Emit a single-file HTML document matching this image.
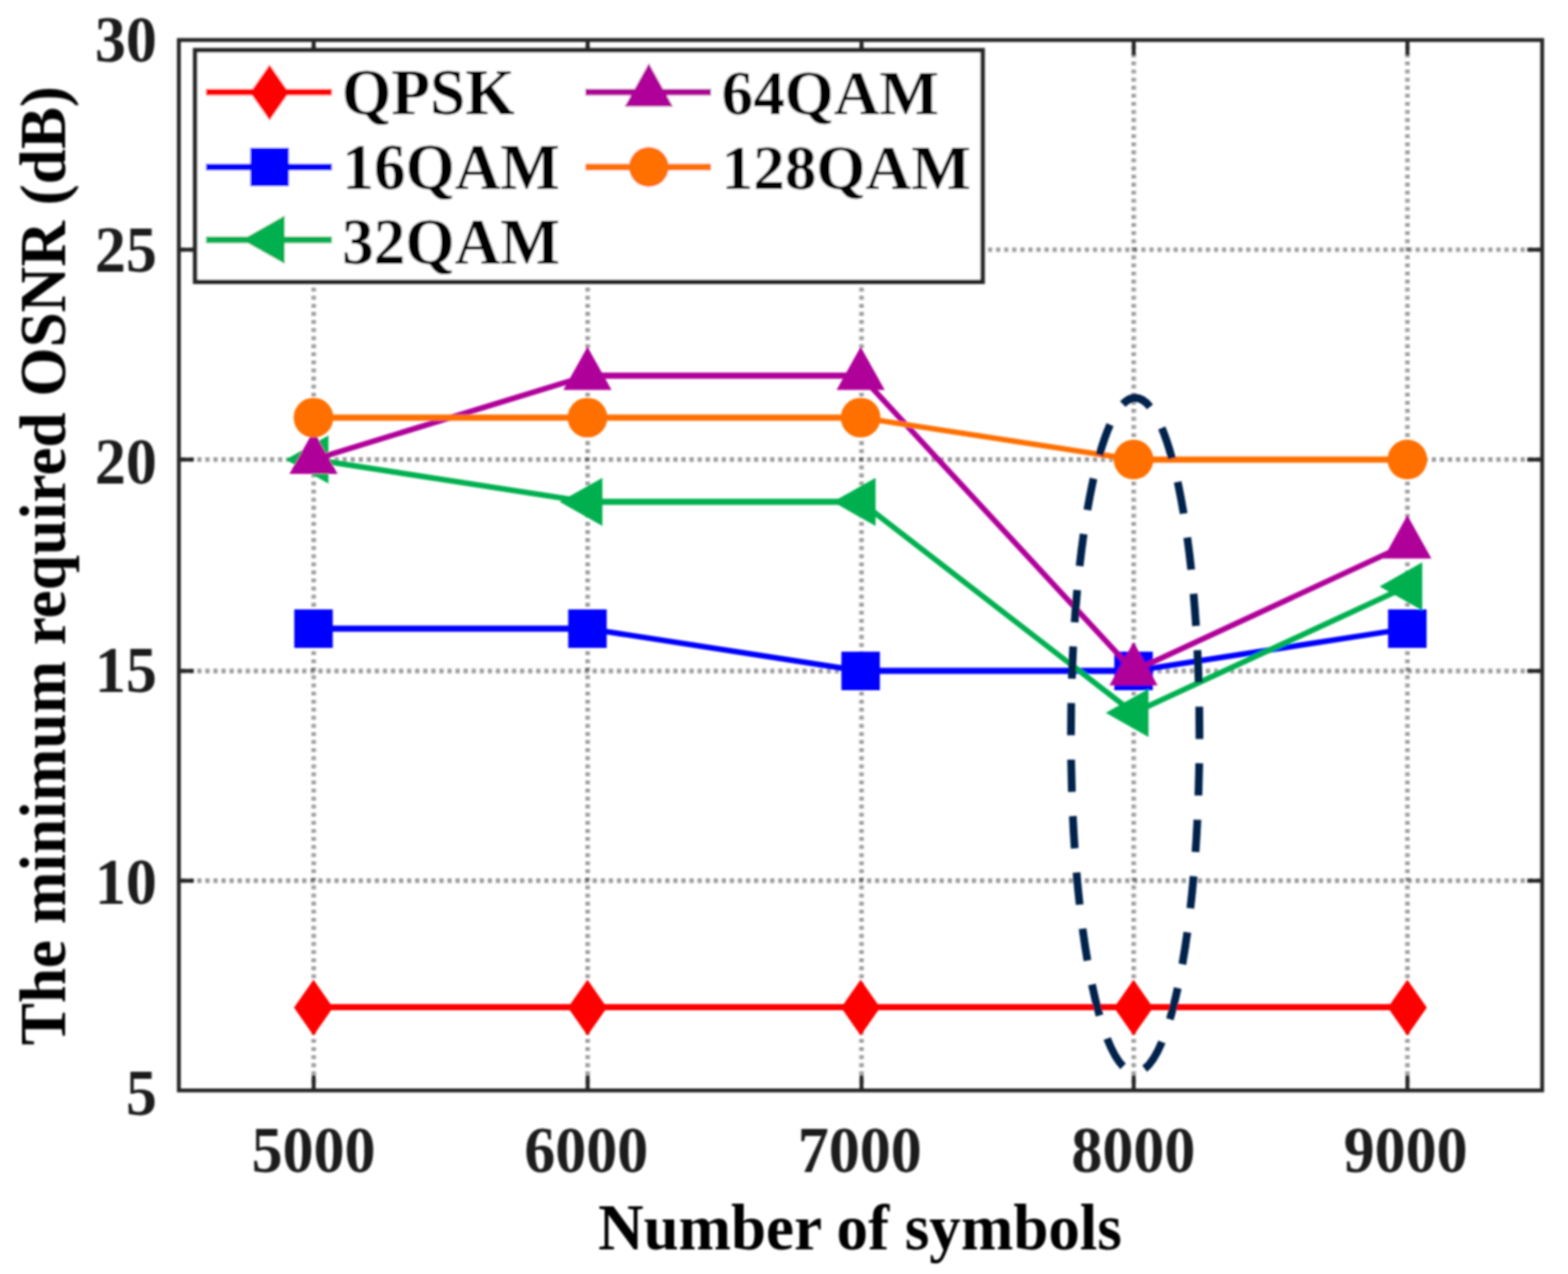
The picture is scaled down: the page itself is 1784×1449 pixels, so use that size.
<!DOCTYPE html>
<html lang="en"><head><meta charset="utf-8"><title>The minimum required OSNR versus number of symbols</title>
<style>
html,body{margin:0;padding:0;background:#fff;}
body{width:1784px;height:1449px;overflow:hidden;}
svg{display:block;}
text{font-family:"Liberation Serif","DejaVu Serif",serif;font-weight:bold;}
.tick{fill:#1c1c1c;}
.lab{fill:#000;}
.leg{fill:#000;}
</style></head><body>
<svg width="1784" height="1449" viewBox="0 0 1784 1449">
<defs><filter id="soft" x="0" y="0" width="1784" height="1449" filterUnits="userSpaceOnUse"><feGaussianBlur stdDeviation="0.95"/></filter></defs>
<rect x="0" y="0" width="1784" height="1449" fill="#ffffff"/>
<g filter="url(#soft)">
<g stroke="#262626" stroke-opacity="0.45" stroke-width="5.2" fill="none">
<line x1="356.9" y1="1240.2" x2="356.9" y2="45.5" stroke-dasharray="4.3 4.888" stroke-dashoffset="1.0"/>
<line x1="668.6" y1="1240.2" x2="668.6" y2="45.5" stroke-dasharray="4.3 4.888" stroke-dashoffset="1.0"/>
<line x1="980.2" y1="1240.2" x2="980.2" y2="45.5" stroke-dasharray="4.3 4.888" stroke-dashoffset="1.0"/>
<line x1="1289.9" y1="1240.2" x2="1289.9" y2="45.5" stroke-dasharray="4.3 4.888" stroke-dashoffset="1.0"/>
<line x1="1601.3" y1="1240.2" x2="1601.3" y2="45.5" stroke-dasharray="4.3 4.888" stroke-dashoffset="1.0"/>
<line x1="203.5" y1="1001.7" x2="1754.6" y2="1001.7" stroke-dasharray="4.7 4.48" stroke-dashoffset="6.5"/>
<line x1="203.5" y1="763.1" x2="1754.6" y2="763.1" stroke-dasharray="4.7 4.48" stroke-dashoffset="6.5"/>
<line x1="203.5" y1="522.7" x2="1754.6" y2="522.7" stroke-dasharray="4.7 4.48" stroke-dashoffset="6.5"/>
<line x1="203.5" y1="284.0" x2="1754.6" y2="284.0" stroke-dasharray="4.7 4.48" stroke-dashoffset="6.5"/>
</g>
<rect x="203.5" y="45.5" width="1551.1" height="1194.7" stroke="#262626" stroke-width="4.4" fill="none"/>
<g stroke="#262626" stroke-width="4.5" fill="none">
<line x1="356.9" y1="1240.2" x2="356.9" y2="1223.2"/>
<line x1="356.9" y1="45.5" x2="356.9" y2="62.5"/>
<line x1="668.6" y1="1240.2" x2="668.6" y2="1223.2"/>
<line x1="668.6" y1="45.5" x2="668.6" y2="62.5"/>
<line x1="980.2" y1="1240.2" x2="980.2" y2="1223.2"/>
<line x1="980.2" y1="45.5" x2="980.2" y2="62.5"/>
<line x1="1289.9" y1="1240.2" x2="1289.9" y2="1223.2"/>
<line x1="1289.9" y1="45.5" x2="1289.9" y2="62.5"/>
<line x1="1601.3" y1="1240.2" x2="1601.3" y2="1223.2"/>
<line x1="1601.3" y1="45.5" x2="1601.3" y2="62.5"/>
<line x1="203.5" y1="1001.7" x2="220.5" y2="1001.7"/>
<line x1="1754.6" y1="1001.7" x2="1737.6" y2="1001.7"/>
<line x1="203.5" y1="763.1" x2="220.5" y2="763.1"/>
<line x1="1754.6" y1="763.1" x2="1737.6" y2="763.1"/>
<line x1="203.5" y1="522.7" x2="220.5" y2="522.7"/>
<line x1="1754.6" y1="522.7" x2="1737.6" y2="522.7"/>
<line x1="203.5" y1="284.0" x2="220.5" y2="284.0"/>
<line x1="1754.6" y1="284.0" x2="1737.6" y2="284.0"/>
</g>
<text class="tick" transform="translate(356.70,1332.60) scale(1.0,1.06)" text-anchor="middle" font-size="70.5">5000</text>
<text class="tick" transform="translate(666.90,1332.60) scale(1.0,1.06)" text-anchor="middle" font-size="70.5">6000</text>
<text class="tick" transform="translate(978.30,1332.60) scale(1.0,1.06)" text-anchor="middle" font-size="70.5">7000</text>
<text class="tick" transform="translate(1289.40,1332.60) scale(1.0,1.06)" text-anchor="middle" font-size="70.5">8000</text>
<text class="tick" transform="translate(1599.30,1332.60) scale(1.0,1.06)" text-anchor="middle" font-size="70.5">9000</text>
<text class="tick" transform="translate(178.50,1267.70) scale(1.0,1.045)" text-anchor="end" font-size="70.5">5</text>
<text class="tick" transform="translate(178.50,1028.20) scale(1.0,1.045)" text-anchor="end" font-size="70.5">10</text>
<text class="tick" transform="translate(178.50,787.30) scale(1.0,1.045)" text-anchor="end" font-size="70.5">15</text>
<text class="tick" transform="translate(178.50,549.60) scale(1.0,1.045)" text-anchor="end" font-size="70.5">20</text>
<text class="tick" transform="translate(178.50,309.20) scale(1.0,1.045)" text-anchor="end" font-size="70.5">25</text>
<text class="tick" transform="translate(178.50,70.40) scale(1.0,1.045)" text-anchor="end" font-size="70.5">30</text>
<text class="lab" transform="translate(978.40,1421.20) scale(1.0,1.04)" text-anchor="middle" font-size="71.7">Number of symbols</text>
<text class="lab" transform="translate(74.30,643.35) rotate(-90) scale(1.0,1.02)" text-anchor="middle" font-size="71.85">The minimum required OSNR (dB)</text>
<line x1="356.7" y1="1145.6" x2="668.4" y2="1145.6" stroke="#ff0000" stroke-width="7.00"/>
<line x1="668.4" y1="1145.6" x2="979.2" y2="1145.6" stroke="#ff0000" stroke-width="7.00"/>
<line x1="979.2" y1="1145.6" x2="1289.7" y2="1145.6" stroke="#ff0000" stroke-width="7.00"/>
<line x1="1289.7" y1="1145.6" x2="1601.2" y2="1145.6" stroke="#ff0000" stroke-width="7.00"/>
<polygon points="356.7,1114.3 378.9,1146.0 356.7,1177.7 334.5,1146.0" fill="#ff0000"/>
<polygon points="668.4,1114.3 690.6,1146.0 668.4,1177.7 646.2,1146.0" fill="#ff0000"/>
<polygon points="979.2,1114.3 1001.4,1146.0 979.2,1177.7 957.0,1146.0" fill="#ff0000"/>
<polygon points="1289.7,1114.3 1311.9,1146.0 1289.7,1177.7 1267.5,1146.0" fill="#ff0000"/>
<polygon points="1601.2,1114.3 1623.4,1146.0 1601.2,1177.7 1579.0,1146.0" fill="#ff0000"/>
<line x1="356.7" y1="715.0" x2="668.4" y2="715.0" stroke="#0000ff" stroke-width="7.00"/>
<line x1="668.4" y1="715.0" x2="979.2" y2="763.1" stroke="#0000ff" stroke-width="6.30"/>
<line x1="979.2" y1="763.1" x2="1289.7" y2="763.1" stroke="#0000ff" stroke-width="7.00"/>
<line x1="1289.7" y1="763.1" x2="1601.2" y2="715.0" stroke="#0000ff" stroke-width="6.30"/>
<rect x="334.8" y="693.1" width="43.8" height="43.8" fill="#0000ff"/>
<rect x="646.5" y="693.1" width="43.8" height="43.8" fill="#0000ff"/>
<rect x="957.3" y="741.2" width="43.8" height="43.8" fill="#0000ff"/>
<rect x="1267.8" y="741.2" width="43.8" height="43.8" fill="#0000ff"/>
<rect x="1579.3" y="693.1" width="43.8" height="43.8" fill="#0000ff"/>
<line x1="356.7" y1="522.7" x2="668.4" y2="570.8" stroke="#00b050" stroke-width="6.30"/>
<line x1="668.4" y1="570.8" x2="979.2" y2="570.8" stroke="#00b050" stroke-width="7.00"/>
<line x1="979.2" y1="570.8" x2="1289.7" y2="810.8" stroke="#00b050" stroke-width="6.30"/>
<line x1="1289.7" y1="810.8" x2="1601.2" y2="666.9" stroke="#00b050" stroke-width="6.30"/>
<polygon points="325.1,522.7 373.7,495.3 373.7,550.1" fill="#00b050"/>
<polygon points="636.8,570.8 685.4,543.4 685.4,598.2" fill="#00b050"/>
<polygon points="947.6,570.8 996.2,543.4 996.2,598.2" fill="#00b050"/>
<polygon points="1258.1,810.8 1306.7,783.4 1306.7,838.2" fill="#00b050"/>
<polygon points="1569.6,666.9 1618.2,639.5 1618.2,694.3" fill="#00b050"/>
<line x1="356.7" y1="522.7" x2="668.4" y2="427.2" stroke="#b0069a" stroke-width="6.30"/>
<line x1="668.4" y1="427.2" x2="979.2" y2="427.2" stroke="#b0069a" stroke-width="7.00"/>
<line x1="979.2" y1="427.2" x2="1289.7" y2="763.1" stroke="#b0069a" stroke-width="6.30"/>
<line x1="1289.7" y1="763.1" x2="1601.2" y2="618.9" stroke="#b0069a" stroke-width="6.30"/>
<polygon points="356.7,489.9 384.1,539.1 329.3,539.1" fill="#b0069a"/>
<polygon points="668.4,394.4 695.8,443.6 641.0,443.6" fill="#b0069a"/>
<polygon points="979.2,394.4 1006.6,443.6 951.8,443.6" fill="#b0069a"/>
<polygon points="1289.7,730.3 1317.1,779.5 1262.3,779.5" fill="#b0069a"/>
<polygon points="1601.2,586.1 1628.6,635.3 1573.8,635.3" fill="#b0069a"/>
<line x1="356.7" y1="475.0" x2="668.4" y2="475.0" stroke="#ff6f00" stroke-width="7.00"/>
<line x1="668.4" y1="475.0" x2="979.2" y2="475.0" stroke="#ff6f00" stroke-width="7.00"/>
<line x1="979.2" y1="475.0" x2="1289.7" y2="522.7" stroke="#ff6f00" stroke-width="6.30"/>
<line x1="1289.7" y1="522.7" x2="1601.2" y2="522.7" stroke="#ff6f00" stroke-width="7.00"/>
<circle cx="356.7" cy="475.0" r="22.6" fill="#ff6f00"/>
<circle cx="668.4" cy="475.0" r="22.6" fill="#ff6f00"/>
<circle cx="979.2" cy="475.0" r="22.6" fill="#ff6f00"/>
<circle cx="1289.7" cy="522.7" r="22.6" fill="#ff6f00"/>
<circle cx="1601.2" cy="522.7" r="22.6" fill="#ff6f00"/>
<path d="M1291.60,452.50 C1331.97,452.50 1364.70,624.24 1364.70,836.10 C1364.70,1047.96 1331.97,1219.70 1291.60,1219.70 C1251.23,1219.70 1218.50,1047.96 1218.50,836.10 C1218.50,624.24 1251.23,452.50 1291.60,452.50Z" pathLength="2500" fill="none" stroke="#03214c" stroke-width="8.8" stroke-dasharray="57 43" stroke-dashoffset="25.3"/>
<rect x="222.0" y="57.1" width="896.0" height="263.4" fill="#ffffff" stroke="#262626" stroke-width="5.1"/>
<line x1="234.5" y1="104.8" x2="377.5" y2="104.8" stroke="#ff0000" stroke-width="7.5"/>
<polygon points="306.7,73.5 328.9,105.2 306.7,136.9 284.5,105.2" fill="#ff0000"/>
<text class="leg" transform="translate(389.00,130.20) scale(1.0,1.017)" text-anchor="start" font-size="72.2">QPSK</text>
<line x1="234.5" y1="189.9" x2="377.5" y2="189.9" stroke="#0000ff" stroke-width="7.5"/>
<rect x="284.8" y="168.0" width="43.8" height="43.8" fill="#0000ff"/>
<text class="leg" transform="translate(389.60,215.30) scale(1.0,1.017)" text-anchor="start" font-size="71.9">16QAM</text>
<line x1="234.5" y1="272.7" x2="377.5" y2="272.7" stroke="#00b050" stroke-width="7.5"/>
<polygon points="275.3,272.7 323.9,245.3 323.9,300.1" fill="#00b050"/>
<text class="leg" transform="translate(389.20,299.50) scale(1.0,1.017)" text-anchor="start" font-size="72.0">32QAM</text>
<line x1="666" y1="104.8" x2="809" y2="104.8" stroke="#b0069a" stroke-width="7.5"/>
<polygon points="738.2,72.0 765.6,121.2 710.8,121.2" fill="#b0069a"/>
<text class="leg" transform="translate(821.00,130.20)" text-anchor="start" font-size="71.8">64QAM</text>
<line x1="666" y1="189.9" x2="809" y2="189.9" stroke="#ff6f00" stroke-width="7.5"/>
<circle cx="738.2" cy="189.9" r="22.6" fill="#ff6f00"/>
<text class="leg" transform="translate(821.00,214.60) scale(1.0,1.005)" text-anchor="start" font-size="71.9">128QAM</text>
</g></svg></body></html>
